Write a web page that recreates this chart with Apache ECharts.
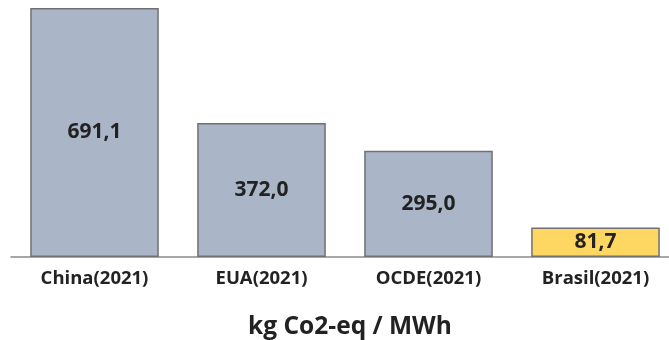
<!DOCTYPE html>
<html>
<head>
<meta charset="utf-8">
<script src="https://cdn.jsdelivr.net/npm/echarts@6/dist/echarts.min.js"></script>
<style>
  html, body { margin: 0; padding: 0; background: #ffffff; }
  #chart { width: 669px; height: 340px; }
</style>
</head>
<body>
<div id="chart"></div>
<script>
// Emissions intensity of electricity generation, 2021
const categories = ['China(2021)', 'EUA(2021)', 'OCDE(2021)', 'Brasil(2021)'];
const values = [691.1, 372.0, 295.0, 81.7];
const highlightIndex = 3; // Brasil drawn in yellow
const axisTitle = 'kg Co2-eq / MWh';

const fmt = v => v.toFixed(1).replace('.', ',');

const chart = echarts.init(document.getElementById('chart'), null, { renderer: 'canvas' });
chart.setOption({
  backgroundColor: '#ffffff',
  animation: false,
  grid: {
    left: 11, width: 668, top: 8, height: 249,
    containLabel: false,
    outerBoundsMode: 'none'
  },
  xAxis: {
    type: 'category',
    data: categories,
    axisLine: { show: true, lineStyle: { color: '#8a8a8a', width: 1.5 } },
    axisTick: { show: false },
    axisLabel: {
      color: '#222222',
      fontFamily: 'Open Sans',
      fontWeight: 'bold',
      fontSize: 18.5,
      margin: 12
    },
    name: axisTitle,
    nameLocation: 'middle',
    nameGap: 58,
    nameTextStyle: {
      color: '#222222',
      fontFamily: 'Open Sans',
      fontWeight: 'bold',
      fontSize: 24.5,
      padding: [0, 0, 0, 10]
    }
  },
  yAxis: {
    type: 'value',
    min: 0,
    max: Math.max(...values),
    show: false,
    splitLine: { show: false }
  },
  series: [{
    type: 'bar',
    barCategoryGap: '23%',
    data: values.map((v, i) => ({
      value: v,
      itemStyle: {
        color: i === highlightIndex ? '#fdd762' : '#abb5c8',
        borderColor: '#707070',
        borderWidth: 1.5
      }
    })),
    label: {
      show: true,
      position: 'inside',
      formatter: p => fmt(p.value),
      color: '#222222',
      fontFamily: 'Open Sans',
      fontWeight: 'bold',
      fontSize: 21
    }
  }]
});
</script>
</body>
</html>
